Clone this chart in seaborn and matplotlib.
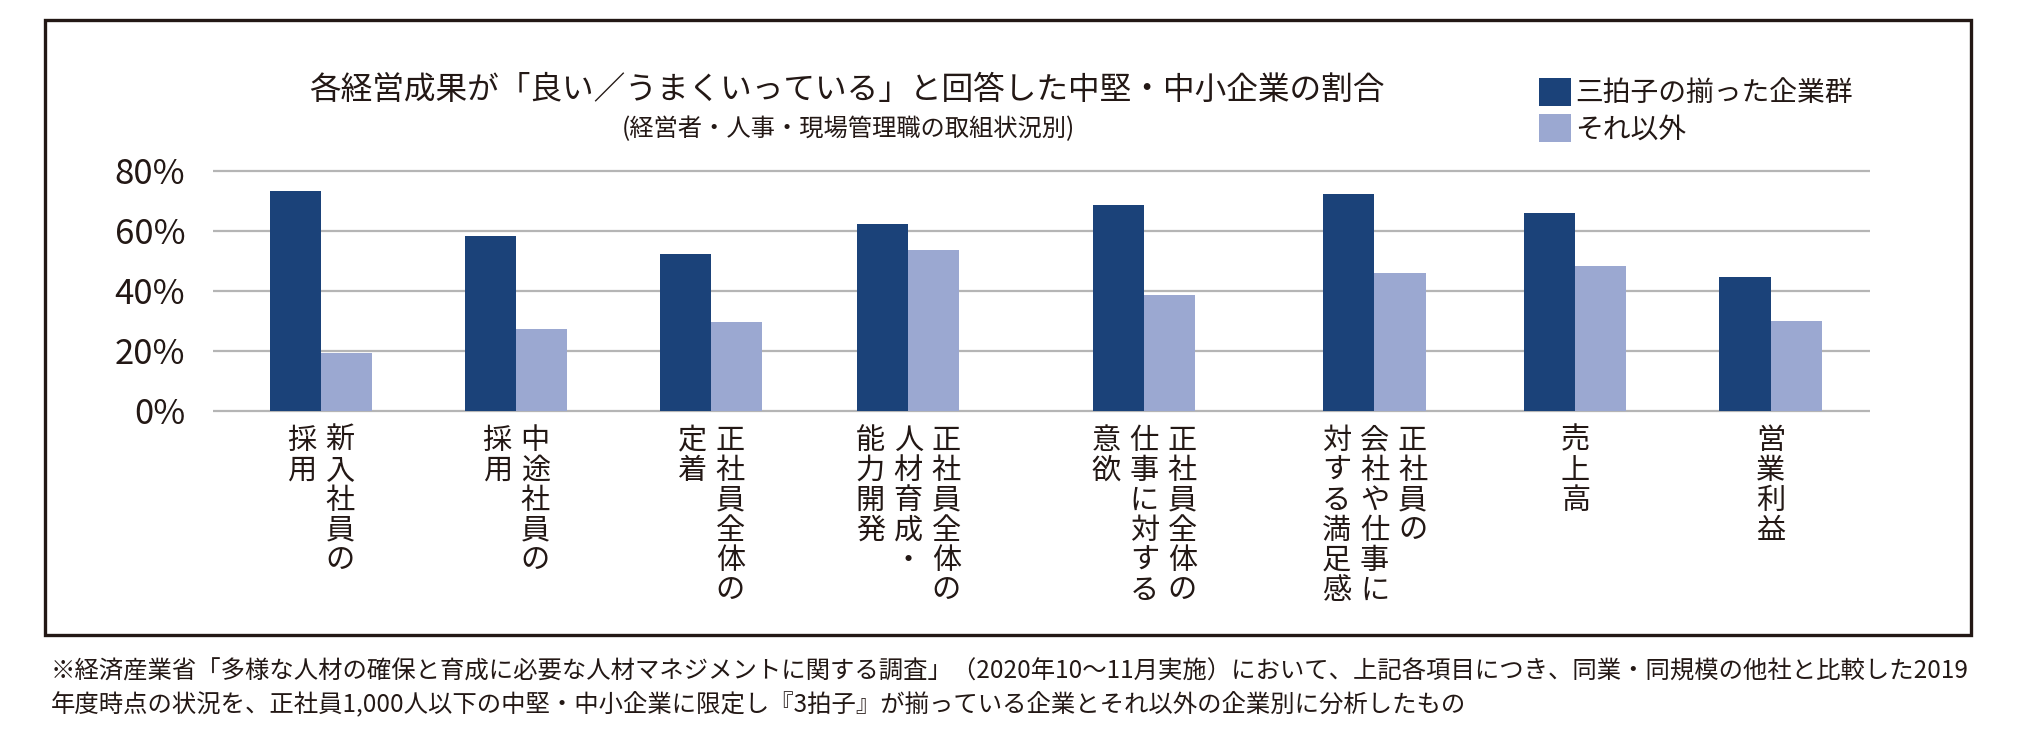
import numpy as np
import pandas as pd
import matplotlib
matplotlib.use("Agg")
import matplotlib.pyplot as plt
import matplotlib.transforms as mtransforms
from matplotlib.patches import Rectangle
import seaborn as sns

# ---------------- data ----------------
categories = ["新入社員の採用", "中途社員の採用", "正社員全体の定着",
              "正社員全体の人材育成・能力開発", "正社員全体の仕事に対する意欲",
              "正社員の会社や仕事に対する満足感", "売上高", "営業利益"]
# vertical label columns, in reading order (right column first)
label_columns = [
    ["新入社員の", "採用"],
    ["中途社員の", "採用"],
    ["正社員全体の", "定着"],
    ["正社員全体の", "人材育成・", "能力開発"],
    ["正社員全体の", "仕事に対する", "意欲"],
    ["正社員の", "会社や仕事に", "対する満足感"],
    ["売上高"],
    ["営業利益"],
]
series_names = ["三拍子の揃った企業群", "それ以外"]
values_sanbyoshi = [73.3, 58.3, 52.3, 62.3, 68.7, 72.3, 66.0, 44.7]
values_other = [19.3, 27.3, 29.7, 53.7, 38.7, 46.0, 48.3, 30.0]
y_ticks = [0, 20, 40, 60, 80]
y_tick_labels = ["0%", "20%", "40%", "60%", "80%"]
title = "各経営成果が「良い／うまくいっている」と回答した中堅・中小企業の割合"
subtitle = "(経営者・人事・現場管理職の取組状況別)"
footnote_lines = [
    "※経済産業省「多様な人材の確保と育成に必要な人材マネジメントに関する調査」（2020年10〜11月実施）において、上記各項目につき、同業・同規模の他社と比較した2019",
    "年度時点の状況を、正社員1,000人以下の中堅・中小企業に限定し『3拍子』が揃っている企業とそれ以外の企業別に分析したもの",
]

# ---------------- layout ----------------
group_pos = [0.0, 1.0, 2.0, 3.01, 4.22, 5.40, 6.43, 7.43]
colors = ["#1B4279", "#9BA8D1"]
grid_color = "#B5B5B5"
text_color = "#231815"

W, H = 2020, 754
sns.set_theme(style="white")
plt.rcParams["font.family"] = ["Noto Sans CJK JP", "DejaVu Sans"]
plt.rcParams["text.color"] = text_color

df = pd.DataFrame({
    "pos": group_pos * 2,
    "value": values_sanbyoshi + values_other,
    "series": [series_names[0]] * len(categories) + [series_names[1]] * len(categories),
})

fig = plt.figure(figsize=(W / 100, H / 100), dpi=100)
ax_bottom_px, ax_top_px = 412.8, 169.2
ax_left_px, ax_right_px = 213, 1870
ax = fig.add_axes([ax_left_px / W, 1 - ax_bottom_px / H,
                   (ax_right_px - ax_left_px) / W, (ax_bottom_px - ax_top_px) / H])

sns.barplot(data=df, x="pos", y="value", hue="series", hue_order=series_names,
            palette=colors, native_scale=True, width=0.523, gap=0, dodge=True,
            errorbar=None, saturation=1, linewidth=0, ax=ax)

ax.set_xlim(-0.554, 7.94)
ax.set_ylim(-0.6, 80.6)
ax.set_yticks(y_ticks)
ax.set_yticklabels(y_tick_labels)
ax.set_xticks(group_pos)
ax.set_xticklabels([""] * len(group_pos))
ax.set_xlabel("")
ax.set_ylabel("")
ax.yaxis.grid(True, color=grid_color, linewidth=1.6)
ax.xaxis.grid(False)
ax.set_axisbelow(True)
for s in ax.spines.values():
    s.set_visible(False)
ax.tick_params(axis="both", length=0)
ax.tick_params(axis="y", labelsize=25, pad=20, labelcolor=text_color)

# vertical (tategaki) category labels
base = mtransforms.blended_transform_factory(ax.transData, ax.transAxes)
col_pitch_px, row_pitch_px, first_row_px = 38, 30, 28
for pos, cols in zip(group_pos, label_columns):
    n = len(cols)
    for j, col in enumerate(cols):
        dx = ((n - 1) / 2 - j) * col_pitch_px * 0.72
        for k, ch in enumerate(col):
            dy = -(first_row_px + k * row_pitch_px) * 0.72
            tr = mtransforms.offset_copy(base, fig=fig, x=dx, y=dy, units="points")
            ax.text(pos, 0, ch, transform=tr, ha="center", va="center",
                    fontsize=21, color=text_color)

# legend
handles, labels = ax.get_legend_handles_labels()
ax.legend(handles, labels, loc="upper left", bbox_to_anchor=(1539 / W, 1 - 78 / H),
          bbox_transform=fig.transFigure, frameon=False, fontsize=20,
          handlelength=1.15, handleheight=1.15, handletextpad=0.15,
          labelspacing=0.22, borderpad=0, borderaxespad=0)

# titles
fig.text(847 / W, 1 - 90 / H, title, ha="center", va="center", fontsize=22.8, color=text_color)
fig.text(848 / W, 1 - 129 / H, subtitle, ha="center", va="center", fontsize=17.5, color=text_color)

# frame
fig.patches.append(Rectangle((45 / W, 1 - 635 / H), (1971 - 45) / W, (635 - 20) / H,
                             transform=fig.transFigure, fill=False,
                             edgecolor=text_color, linewidth=2.4))

# footnote
fig.text(51 / W, 1 - 672 / H, footnote_lines[0], ha="left", va="center", fontsize=17.55, color=text_color)
fig.text(51 / W, 1 - 705 / H, footnote_lines[1], ha="left", va="center", fontsize=17.55, color=text_color)

fig.savefig("out.png", dpi=100)
